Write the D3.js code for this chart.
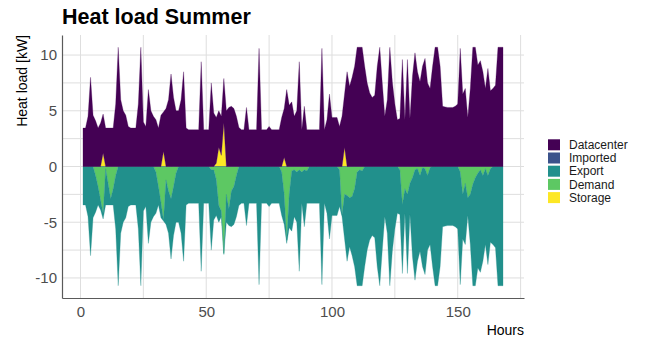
<!DOCTYPE html>
<html>
<head>
<meta charset="utf-8">
<title>Heat load Summer</title>
<script src="https://d3js.org/d3.v7.min.js"></script>
<style>
  body { margin: 0; background: #fff; font-family: "Liberation Sans", Arial, sans-serif; }
</style>
</head>
<body>
<div id="chart"></div>
<script>
// hourly values, summer week (kW)
var hours = d3.range(1, 169);

var datacenter = [
  3.45, 3.45, 4.5, 8.0, 4.6, 4.1, 3.45, 3.9, 3.5, 3.45, 3.45, 3.45,
  3.45, 5.6, 10.7, 6.0, 5.0, 4.6, 3.6, 3.45, 3.45, 3.45, 5.6, 10.7,
  4.0, 3.6, 6.9, 5.0, 4.5, 4.2, 3.45, 4.6, 3.55, 5.2, 6.0, 8.3,
  6.2, 5.0, 5.0, 6.0, 8.5, 3.45, 3.3, 3.3, 3.3, 3.3, 3.3, 9.4,
  3.3, 3.3, 3.3, 7.5, 4.8, 4.1, 3.3, 3.5, 4.0, 5.0, 5.3, 5.4,
  5.2, 4.5, 3.5, 3.3, 3.3, 5.3, 3.3, 3.3, 3.3, 3.3, 10.6, 3.3,
  3.3, 3.3, 3.6, 3.3, 3.3, 3.3, 3.3, 4.4, 4.4, 6.9, 5.5, 5.8,
  4.5, 5.0, 9.4, 3.3, 5.4, 3.3, 3.3, 3.3, 3.3, 3.3, 3.3, 10.6,
  3.3, 4.2, 6.5, 4.4, 4.4, 4.4, 3.6, 4.5, 4.8, 8.5, 7.2, 8.0,
  9.0, 10.7, 10.7, 10.7, 9.0, 7.5, 6.6, 6.2, 6.4, 9.0, 10.7, 7.5,
  4.5, 6.0, 10.7, 7.6, 5.6, 4.2, 4.3, 9.6, 4.2, 9.6, 4.3, 8.1,
  10.2, 8.5, 7.6, 9.0, 9.7, 7.5, 7.0, 9.0, 10.7, 10.7, 9.0, 5.4,
  5.35, 5.3, 5.3, 5.3, 5.4, 5.6, 10.6, 6.5, 7.0, 4.4, 7.0, 10.7,
  10.7, 9.1, 9.5, 8.5, 7.0, 8.8, 6.8, 7.0, 7.3, 10.7, 10.7, 10.7
];

var imported = hours.map(function(){ return 0; });

var exported = [
  -3.45, -3.45, -4.5, -8.0, -4.6, -3.3, -1.65, -0.9, -0.5, -3.25, -1.95, -0.55,
  -1.45, -4.8, -10.7, -6.0, -5.0, -4.6, -3.6, -3.45, -3.45, -3.45, -5.6, -10.7,
  -4.0, -3.6, -6.9, -5.0, -4.5, -3.7, -1.65, -1.4, -0.1, -4.0, -3.8, -5.4,
  -4.4, -4.4, -5.0, -6.0, -8.5, -3.45, -3.3, -3.3, -3.3, -3.3, -3.3, -9.4,
  -3.3, -3.3, -3.3, -7.2, -4.5, -3.2, -1.5, -0.5, -0.1, -2.5, -1.5, -3.2,
  -3.4, -3.7, -3.5, -3.3, -3.3, -5.3, -3.3, -3.3, -3.3, -3.3, -10.6, -3.3,
  -3.3, -3.3, -3.6, -3.3, -3.3, -3.3, -3.3, -3.9, -2.7, -0.3, -3.0, -5.4,
  -4.2, -4.5, -9.1, -2.8, -5.1, -2.9, -3.3, -3.3, -3.3, -3.3, -3.3, -10.6,
  -3.3, -4.2, -6.5, -4.4, -4.4, -4.4, -3.3, -0.2, -4.0, -5.9, -4.4, -5.3,
  -7.0, -10.2, -10.4, -10.3, -9.0, -7.5, -6.6, -6.2, -6.4, -9.0, -10.7, -7.5,
  -4.5, -6.0, -10.7, -7.6, -5.6, -4.2, -4.0, -6.2, -2.2, -7.1, -2.8, -7.1,
  -9.9, -8.3, -6.8, -8.9, -9.5, -6.7, -6.9, -9.0, -10.7, -10.7, -9.0, -5.4,
  -5.35, -5.3, -5.3, -5.3, -5.4, -5.6, -10.1, -4.0, -5.5, -1.6, -4.5, -9.1,
  -9.7, -8.5, -9.2, -7.7, -6.8, -8.0, -6.6, -7.0, -7.3, -10.7, -10.7, -10.7
];

var demand = [
  0, 0, 0, 0, 0, -0.8, -1.8, -3.0, -4.2, -0.2, -1.5, -2.9,
  -2.0, -0.8, 0, 0, 0, 0, 0, 0, 0, 0, 0, 0,
  0, 0, 0, 0, 0, -0.5, -1.8, -3.2, -4.8, -1.2, -2.2, -2.9,
  -1.8, -0.6, 0, 0, 0, 0, 0, 0, 0, 0, 0, 0,
  0, 0, 0, -0.3, -0.3, -1.2, -3.5, -4.0, -7.8, -2.5, -3.8, -2.2,
  -1.8, -0.8, 0, 0, 0, 0, 0, 0, 0, 0, 0, 0,
  0, 0, 0, 0, 0, 0, 0, -0.5, -2.5, -6.6, -2.5, -0.4,
  -0.3, -0.5, -0.3, -0.5, -0.3, -0.4, 0, 0, 0, 0, 0, 0,
  0, 0, 0, 0, 0, 0, -0.3, -4.3, -2.5, -2.6, -2.8, -2.7,
  -2.0, -0.5, -0.3, -0.4, 0, 0, 0, 0, 0, 0, 0, 0,
  0, 0, 0, 0, 0, 0, -0.3, -3.4, -2.0, -2.5, -1.5, -1.0,
  -0.3, -0.2, -0.8, -0.1, -0.2, -0.8, -0.1, 0, 0, 0, 0, 0,
  0, 0, 0, 0, 0, 0, -0.5, -2.5, -1.5, -2.8, -2.5, -1.6,
  -1.0, -0.6, -0.3, -0.8, -0.2, -0.8, -0.2, 0, 0, 0, 0, 0
];

var storage = [
  0, 0, 0, 0, 0, 0, 0, 0, 1.2, 0, 0, 0,
  0, 0, 0, 0, 0, 0, 0, 0, 0, 0, 0, 0,
  0, 0, 0, 0, 0, 0, 0, 0, 1.35, 0, 0, 0,
  0, 0, 0, 0, 0, 0, 0, 0, 0, 0, 0, 0,
  0, 0, 0, 0, 0, 0.3, 1.7, 1.0, 3.9, 0, 0, 0,
  0, 0, 0, 0, 0, 0, 0, 0, 0, 0, 0, 0,
  0, 0, 0, 0, 0, 0, 0, 0, 0.8, 0, 0, 0,
  0, 0, 0, 0, 0, 0, 0, 0, 0, 0, 0, 0,
  0, 0, 0, 0, 0, 0, 0, 0, 1.7, 0, 0, 0,
  0, 0, 0, 0, 0, 0, 0, 0, 0, 0, 0, 0,
  0, 0, 0, 0, 0, 0, 0, 0, 0, 0, 0, 0,
  0, 0, 0, 0, 0, 0, 0, 0, 0, 0, 0, 0,
  0, 0, 0, 0, 0, 0, 0, 0, 0, 0, 0, 0,
  0, 0, 0, 0, 0, 0, 0, 0, 0, 0, 0, 0
];

var seriesNames = ["Datacenter", "Imported", "Export", "Demand", "Storage"];
var seriesColors = ["#440154", "#3B528B", "#21908C", "#5DC863", "#FDE725"];
var xTicks = [0, 50, 100, 150], xMinor = [25, 75, 125, 175];
var yTicks = [-10, -5, 0, 5, 10], yMinor = [-7.5, -2.5, 2.5, 7.5];

var W = 651, H = 343, L = 62, R = 524, T = 35, B = 298;
var color = d3.scaleOrdinal().domain(seriesNames).range(seriesColors);

var rows = hours.map(function(h, i){
  return { hour: h, Datacenter: datacenter[i], Imported: imported[i], Export: exported[i], Demand: demand[i], Storage: storage[i] };
});

var svg = d3.select("#chart").append("svg").attr("width", W).attr("height", H);
var x = d3.scaleLinear().domain([-7.35, 176.35]).range([L, R]);
var y = d3.scaleLinear().domain([-11.8, 11.8]).range([B, T]);

// grid
var grid = svg.append("g");
grid.selectAll(".gx").data(xMinor.concat(xTicks)).enter().append("line")
  .attr("x1", function(d){ return x(d); }).attr("x2", function(d){ return x(d); })
  .attr("y1", T).attr("y2", B).style("stroke", "#dedede").style("stroke-width", 1);
grid.selectAll(".gy").data(yMinor.concat(yTicks)).enter().append("line")
  .attr("x1", L).attr("x2", R)
  .attr("y1", function(d){ return y(d); }).attr("y2", function(d){ return y(d); })
  .style("stroke", "#dedede").style("stroke-width", 1);

// stacked areas (storage/demand next to zero, datacenter/export outside)
var stack = d3.stack().keys(["Storage", "Demand", "Export", "Imported", "Datacenter"]).offset(d3.stackOffsetDiverging);
var area = d3.area()
  .x(function(d){ return x(d.data.hour); })
  .y0(function(d){ return y(d[0]); })
  .y1(function(d){ return y(d[1]); });
svg.append("g").selectAll("path").data(stack(rows)).enter().append("path")
  .attr("d", area)
  .style("fill", function(d){ return color(d.key); })
  .style("stroke", function(d){ return color(d.key); })
  .style("stroke-width", 0.3);

// axes
var plain = function(d){ return String(d); };
var xAxis = svg.append("g").attr("transform", "translate(0," + B + ")")
  .call(d3.axisBottom(x).tickValues(xTicks).tickFormat(plain).tickSize(0).tickPadding(8));
var yAxis = svg.append("g").attr("transform", "translate(" + L + ",0)")
  .call(d3.axisLeft(y).tickValues(yTicks).tickFormat(plain).tickSize(0).tickPadding(5));
[xAxis, yAxis].forEach(function(a){
  a.select(".domain").style("stroke", "#5a5a5a").style("stroke-width", 1.2);
  a.selectAll("text").style("font-family", "'Liberation Sans', Arial, sans-serif")
    .style("font-size", "15px").style("fill", "#4d4d4d");
});

// titles
svg.append("text").attr("x", L).attr("y", 23.5).text("Heat load Summer")
  .style("font-size", "21.5px").style("font-weight", "bold").style("fill", "#000");
svg.append("text").attr("transform", "translate(27," + T + ") rotate(-90)")
  .attr("text-anchor", "end").text("Heat load [kW]")
  .style("font-size", "14px").style("fill", "#000");
svg.append("text").attr("x", R).attr("y", 335).attr("text-anchor", "end").text("Hours")
  .style("font-size", "14px").style("fill", "#000");

// legend
var legend = svg.append("g").selectAll("g").data(seriesNames).enter().append("g")
  .attr("transform", function(d, i){ return "translate(548," + (139.3 + i * 13.2) + ")"; });
legend.append("rect").attr("width", 12).attr("height", 11)
  .style("fill", function(d){ return color(d); });
legend.append("text").attr("x", 21).attr("y", 5.5).attr("dy", "0.35em").text(function(d){ return d; })
  .style("font-size", "12px").style("fill", "#1a1a1a");
</script>
</body>
</html>
